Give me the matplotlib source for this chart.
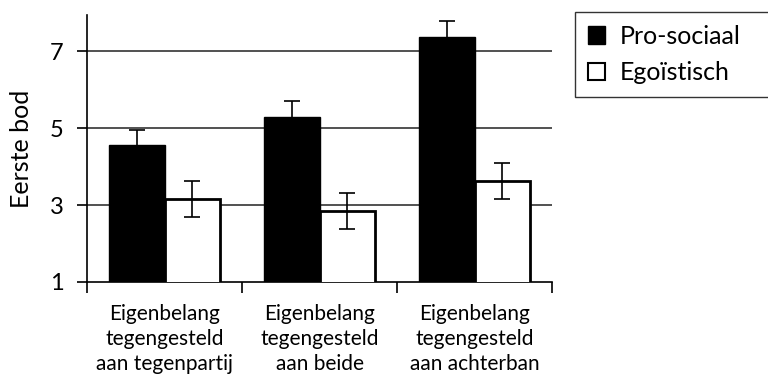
import numpy as np
import matplotlib.pyplot as plt
from matplotlib.patches import Patch

categories = ["Eigenbelang\ntegengesteld\naan tegenpartij",
              "Eigenbelang\ntegengesteld\naan beide",
              "Eigenbelang\ntegengesteld\naan achterban"]
prosociaal = [4.56, 5.29, 7.39]
prosociaal_err = [0.40, 0.43, 0.41]
egoistisch = [3.16, 2.85, 3.63]
egoistisch_err = [0.47, 0.46, 0.46]
yticks = [1, 3, 5, 7]

plt.rcParams['font.family'] = ['Lato', 'DejaVu Sans']

fig = plt.figure(figsize=(7.68, 3.81), dpi=100)
ax = fig.add_axes([87 / 768, 1 - 282 / 381, (552 - 87) / 768, (282 - 15) / 381])

x = np.arange(len(categories))
w = 0.36
ax.bar(x - w / 2, prosociaal, w, color='black', edgecolor='black',
       yerr=prosociaal_err, error_kw=dict(ecolor='black', capsize=6, elinewidth=1.2, capthick=1.2),
       zorder=3)
ax.bar(x + w / 2, egoistisch, w, color='white', edgecolor='black', linewidth=2,
       yerr=egoistisch_err, error_kw=dict(ecolor='black', capsize=6, elinewidth=1.2, capthick=1.2),
       zorder=3)

ax.set_ylim(1, 7.95)
ax.set_xlim(-0.5, 2.5)
ax.set_yticks(yticks)
ax.set_yticklabels([str(v) for v in yticks], fontsize=17)
for v in yticks[1:]:
    ax.axhline(v, color='#333333', linewidth=1.2, zorder=1)

ax.set_xticks([-0.5, 0.5, 1.5, 2.5])
ax.set_xticklabels([])
ax.set_xticks(x, minor=True)
ax.set_xticklabels(categories, minor=True, fontsize=15, linespacing=1.3)
ax.tick_params(axis='x', which='minor', length=0, pad=16)
ax.tick_params(axis='x', which='major', length=8, direction='out', width=1.2)
ax.tick_params(axis='y', length=7, direction='out', width=1.2, pad=10)

ax.spines['top'].set_visible(False)
ax.spines['right'].set_visible(False)
ax.spines['left'].set_linewidth(1.2)
ax.spines['bottom'].set_linewidth(1.2)
ax.set_ylabel('Eerste bod', fontsize=18, labelpad=12)

handles = [Patch(facecolor='black', edgecolor='black', label='Pro-sociaal'),
           Patch(facecolor='white', edgecolor='black', linewidth=1.5, label='Egoïstisch')]
fig.legend(handles=handles, loc='upper left', mode='expand',
           bbox_to_anchor=(575 / 768, 1 - 12 / 381, (790 - 575) / 768, 0),
           fontsize=18, frameon=True, fancybox=False, edgecolor='black',
           handlelength=0.7, handleheight=0.7, handletextpad=0.6, borderpad=0.5,
           labelspacing=0.55, borderaxespad=0)

plt.savefig("out.png", dpi=100)
